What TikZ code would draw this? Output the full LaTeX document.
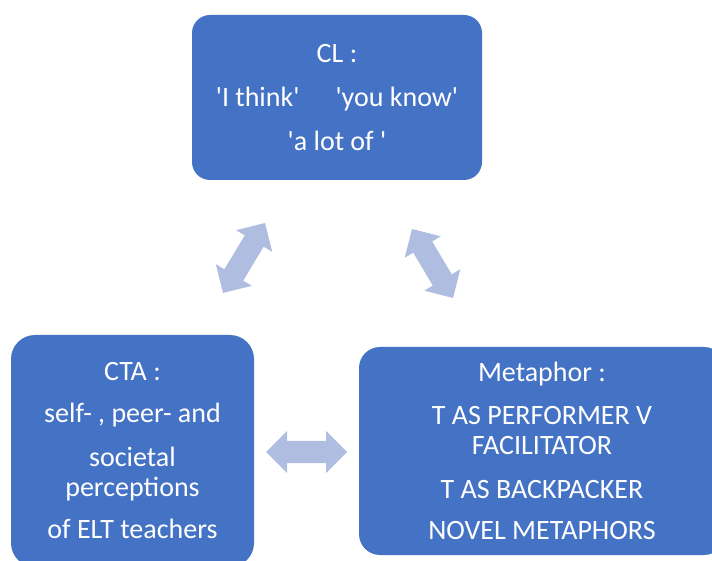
\documentclass[tikz,border=0pt]{standalone}
\usepackage{fontspec}
\setmainfont{Carlito}
\usetikzlibrary{calc}
\definecolor{boxblue}{HTML}{4472C4}
\definecolor{arrowblue}{HTML}{AFBDE0}
\newcommand\myq{\textquotesingle}
\newcommand\blockarrow[2]{%
  \fill[arrowfill] (#1)
    -- ($(#1)!29.7pt!45:(#2)$)
    -- ($(#1)!23.71pt!27.65:(#2)$)
    -- ($(#2)!23.71pt!-27.65:(#1)$)
    -- ($(#2)!29.7pt!-45:(#1)$)
    -- (#2)
    -- ($(#2)!29.7pt!45:(#1)$)
    -- ($(#2)!23.71pt!27.65:(#1)$)
    -- ($(#1)!23.71pt!-27.65:(#2)$)
    -- ($(#1)!29.7pt!-45:(#2)$)
    -- cycle;}
\begin{document}
\begin{tikzpicture}[x=1pt,y=1pt,
  box/.style={draw=none, fill=boxblue, text=white, align=center,
    font=\fontsize{28}{30}\selectfont, inner sep=0pt},
  arrowfill/.style={fill=arrowblue}]
\useasboundingbox (0,0) rectangle (712,560);
\clip (0,0) rectangle (712,560);
\node[box, minimum width=290, minimum height=165, rounded corners=18] (cl) at (337,462.5)
  {CL :\\[14pt]\myq I think\myq\hspace{36pt}\myq you know\myq\\[14pt]\myq a lot of \myq};
\node[box, minimum width=243, minimum height=232, rounded corners=24] (cta) at (132.5,109)
  {CTA :\\[12pt]self- , peer- and\\[14pt]societal\\perceptions\\[12pt]of ELT teachers};
\node[box, minimum width=366, minimum height=208, rounded corners=21] (met) at (542,109)
  {Metaphor :\\[13pt]T AS PERFORMER V\\FACILITATOR\\[14pt]T AS BACKPACKER\\[11pt]NOVEL METAPHORS};
\coordinate (a1s) at (223,267);
\coordinate (a1e) at (265,337);
\coordinate (a2s) at (412,331);
\coordinate (a2e) at (453,262);
\coordinate (a3s) at (266,108);
\coordinate (a3e) at (347,108);
\blockarrow{a1s}{a1e}
\blockarrow{a2s}{a2e}
\blockarrow{a3s}{a3e}
\end{tikzpicture}
\end{document}
